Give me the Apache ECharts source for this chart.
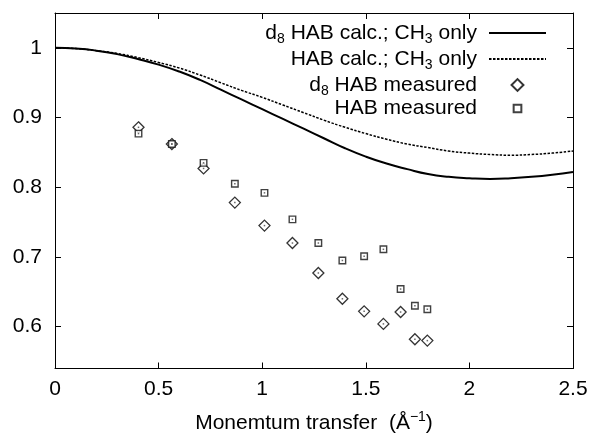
<!DOCTYPE html>
<html>
<head>
<meta charset="utf-8">
<script src="https://cdn.jsdelivr.net/npm/echarts@6/dist/echarts.min.js"></script>
<style>
  html, body { margin: 0; padding: 0; background: #fff; }
  #chart { width: 593px; height: 441px; }
</style>
</head>
<body>
<div id="chart"></div>
<script>
// Momentum transfer grid for the calculated curves (1/Å)
const calcQ = [0, 0.1, 0.2, 0.3, 0.4, 0.5, 0.6, 0.7, 0.8, 0.9, 1.0, 1.1, 1.2, 1.3,
               1.4, 1.5, 1.6, 1.7, 1.8, 1.9, 2.0, 2.1, 2.2, 2.3, 2.4, 2.5];
// d8 HAB calculation, CH3 only
const calcD8 = [1.000, 0.999, 0.996, 0.991, 0.984, 0.976, 0.966, 0.954, 0.940, 0.926,
                0.912, 0.898, 0.884, 0.870, 0.856, 0.844, 0.834, 0.826, 0.819, 0.815,
                0.813, 0.812, 0.813, 0.815, 0.818, 0.822];
// HAB calculation, CH3 only
const calcHAB = [1.000, 0.999, 0.996, 0.992, 0.986, 0.979, 0.971, 0.961, 0.950, 0.939,
                 0.929, 0.918, 0.907, 0.896, 0.886, 0.877, 0.869, 0.862, 0.857, 0.852,
                 0.849, 0.847, 0.846, 0.847, 0.849, 0.852];

// Measured points
const measQ = [0.403, 0.564, 0.717, 0.868, 1.011, 1.146, 1.271, 1.387, 1.492, 1.585,
               1.668, 1.737, 1.797];
const measD8 = [0.886, 0.862, 0.827, 0.778, 0.745, 0.720, 0.677, 0.640, 0.622, 0.604,
                0.621, 0.582, 0.580];
const measHAB = [0.877, 0.862, 0.835, 0.805, 0.792, 0.754, 0.720, 0.695, 0.701, 0.711,
                 0.654, 0.630, 0.625];

// Axis ticks
const xTicks = [0, 0.5, 1, 1.5, 2, 2.5];
const yTicks = [0.6, 0.7, 0.8, 0.9, 1];

const seriesNames = [
  'd8 HAB calc.; CH3 only',
  'HAB calc.; CH3 only',
  'd8 HAB measured',
  'HAB measured'
];

const zip = (xs, ys) => xs.map((x, i) => [x, ys[i]]);

const FONT = 'Liberation Sans, Arial, Helvetica, sans-serif';
const FS = 21;
const yMin = 0.54, yMax = 1.05;

function legendLabel(name) {
  // isotope / group numbers as subscripts
  if (name === seriesNames[0]) return '{n|d}{s|8}{n| HAB calc.; CH}{s|3}{n| only}';
  if (name === seriesNames[1]) return '{n|HAB calc.; CH}{s|3}{n| only}';
  if (name === seriesNames[2]) return '{n|d}{s|8}{n| HAB measured}';
  return '{n|HAB measured}';
}

const axisCommon = {
  axisLine: { show: true, onZero: false, lineStyle: { color: '#000', width: 1 } },
  axisTick: { show: true, inside: true, length: 6, lineStyle: { color: '#000', width: 1 } },
  splitLine: { show: false }
};

const hiddenIconStyle = { color: 'rgba(0,0,0,0)', borderColor: 'rgba(0,0,0,0)', borderWidth: 0 };

const chart = echarts.init(document.getElementById('chart'), null, { renderer: 'canvas' });

chart.setOption({
  animation: false,
  backgroundColor: '#fff',
  grid: { left: 55, right: 20, top: 13, bottom: 67.5, containLabel: false },
  xAxis: [
    Object.assign({}, axisCommon, {
      type: 'value', position: 'bottom', min: 0, max: 2.5, interval: 0.5,
      axisLabel: {
        show: true, color: '#000', fontFamily: FONT, fontSize: FS, margin: 10,
        customValues: xTicks
      },
      name: 'Monemtum transfer  (Å{sup|−1})',
      nameLocation: 'middle',
      nameGap: 44,
      nameTextStyle: {
        color: '#000', fontFamily: FONT, fontSize: FS,
        rich: { sup: { fontFamily: FONT, fontSize: 14, lineHeight: 8, padding: [0, 0, 12, 0], color: '#000' } }
      }
    }),
    Object.assign({}, axisCommon, {
      type: 'value', position: 'top', min: 0, max: 2.5, interval: 0.5,
      axisLabel: { show: false }
    })
  ],
  yAxis: [
    Object.assign({}, axisCommon, {
      type: 'value', position: 'left', min: yMin, max: yMax,
      axisTick: Object.assign({}, axisCommon.axisTick, { customValues: yTicks }),
      axisLabel: {
        show: true, color: '#000', fontFamily: FONT, fontSize: FS, margin: 13,
        customValues: yTicks
      }
    }),
    Object.assign({}, axisCommon, {
      type: 'value', position: 'right', min: yMin, max: yMax,
      axisTick: Object.assign({}, axisCommon.axisTick, { customValues: yTicks }),
      axisLabel: { show: false, customValues: yTicks }
    })
  ],
  legend: {
    orient: 'vertical',
    right: 41,
    top: 15,
    align: 'right',
    itemWidth: 57,
    itemHeight: 14,
    itemGap: 0,
    selectedMode: false,
    data: [
      { name: seriesNames[0], itemStyle: hiddenIconStyle },
      { name: seriesNames[1], itemStyle: hiddenIconStyle },
      { name: seriesNames[2], icon: 'path://M0,0M16,16M1.2,8L8,1.2L14.8,8L8,14.8Z' },
      { name: seriesNames[3], icon: 'path://M0,0M16,16M3.6,3.6H12.4V12.4H3.6Z' }
    ],
    formatter: legendLabel,
    textStyle: {
      color: '#000',
      padding: [0, 7, 0, 0],
      rich: {
        n: { fontFamily: FONT, fontSize: FS, color: '#000', lineHeight: 21 },
        s: { fontFamily: FONT, fontSize: 14, color: '#000', lineHeight: 8, padding: [12, 0, 0, 0] }
      }
    }
  },
  series: [
    {
      name: seriesNames[0], type: 'line', data: zip(calcQ, calcD8),
      xAxisIndex: 0, yAxisIndex: 0,
      showSymbol: false, symbol: 'none', smooth: true,
      lineStyle: { color: '#000', width: 2, type: 'solid' },
      itemStyle: { color: '#000' }
    },
    {
      name: seriesNames[1], type: 'line', data: zip(calcQ, calcHAB),
      xAxisIndex: 0, yAxisIndex: 0,
      showSymbol: false, symbol: 'none', smooth: true,
      lineStyle: { color: '#000', width: 1.5, type: [2.5, 1.5] },
      itemStyle: { color: '#000' }
    },
    {
      name: seriesNames[2], type: 'scatter', data: zip(measQ, measD8),
      xAxisIndex: 0, yAxisIndex: 0,
      symbol: 'diamond', symbolSize: 11,
      itemStyle: { color: '#fff', borderColor: '#000', borderWidth: 1.3 }
    },
    {
      name: seriesNames[3], type: 'scatter', data: zip(measQ, measHAB),
      xAxisIndex: 0, yAxisIndex: 0,
      symbol: 'rect', symbolSize: 6.5,
      itemStyle: { color: '#fff', borderColor: '#111', borderWidth: 1.4 }
    },
    // centre dots of the point markers
    {
      name: 'd8 centre', type: 'scatter', data: zip(measQ, measD8),
      symbol: 'rect', symbolSize: 1.5, silent: true,
      itemStyle: { color: '#444' }
    },
    {
      name: 'HAB centre', type: 'scatter', data: zip(measQ, measHAB),
      symbol: 'rect', symbolSize: 1.5, silent: true,
      itemStyle: { color: '#444' }
    }
  ]
});
</script>
</body>
</html>
